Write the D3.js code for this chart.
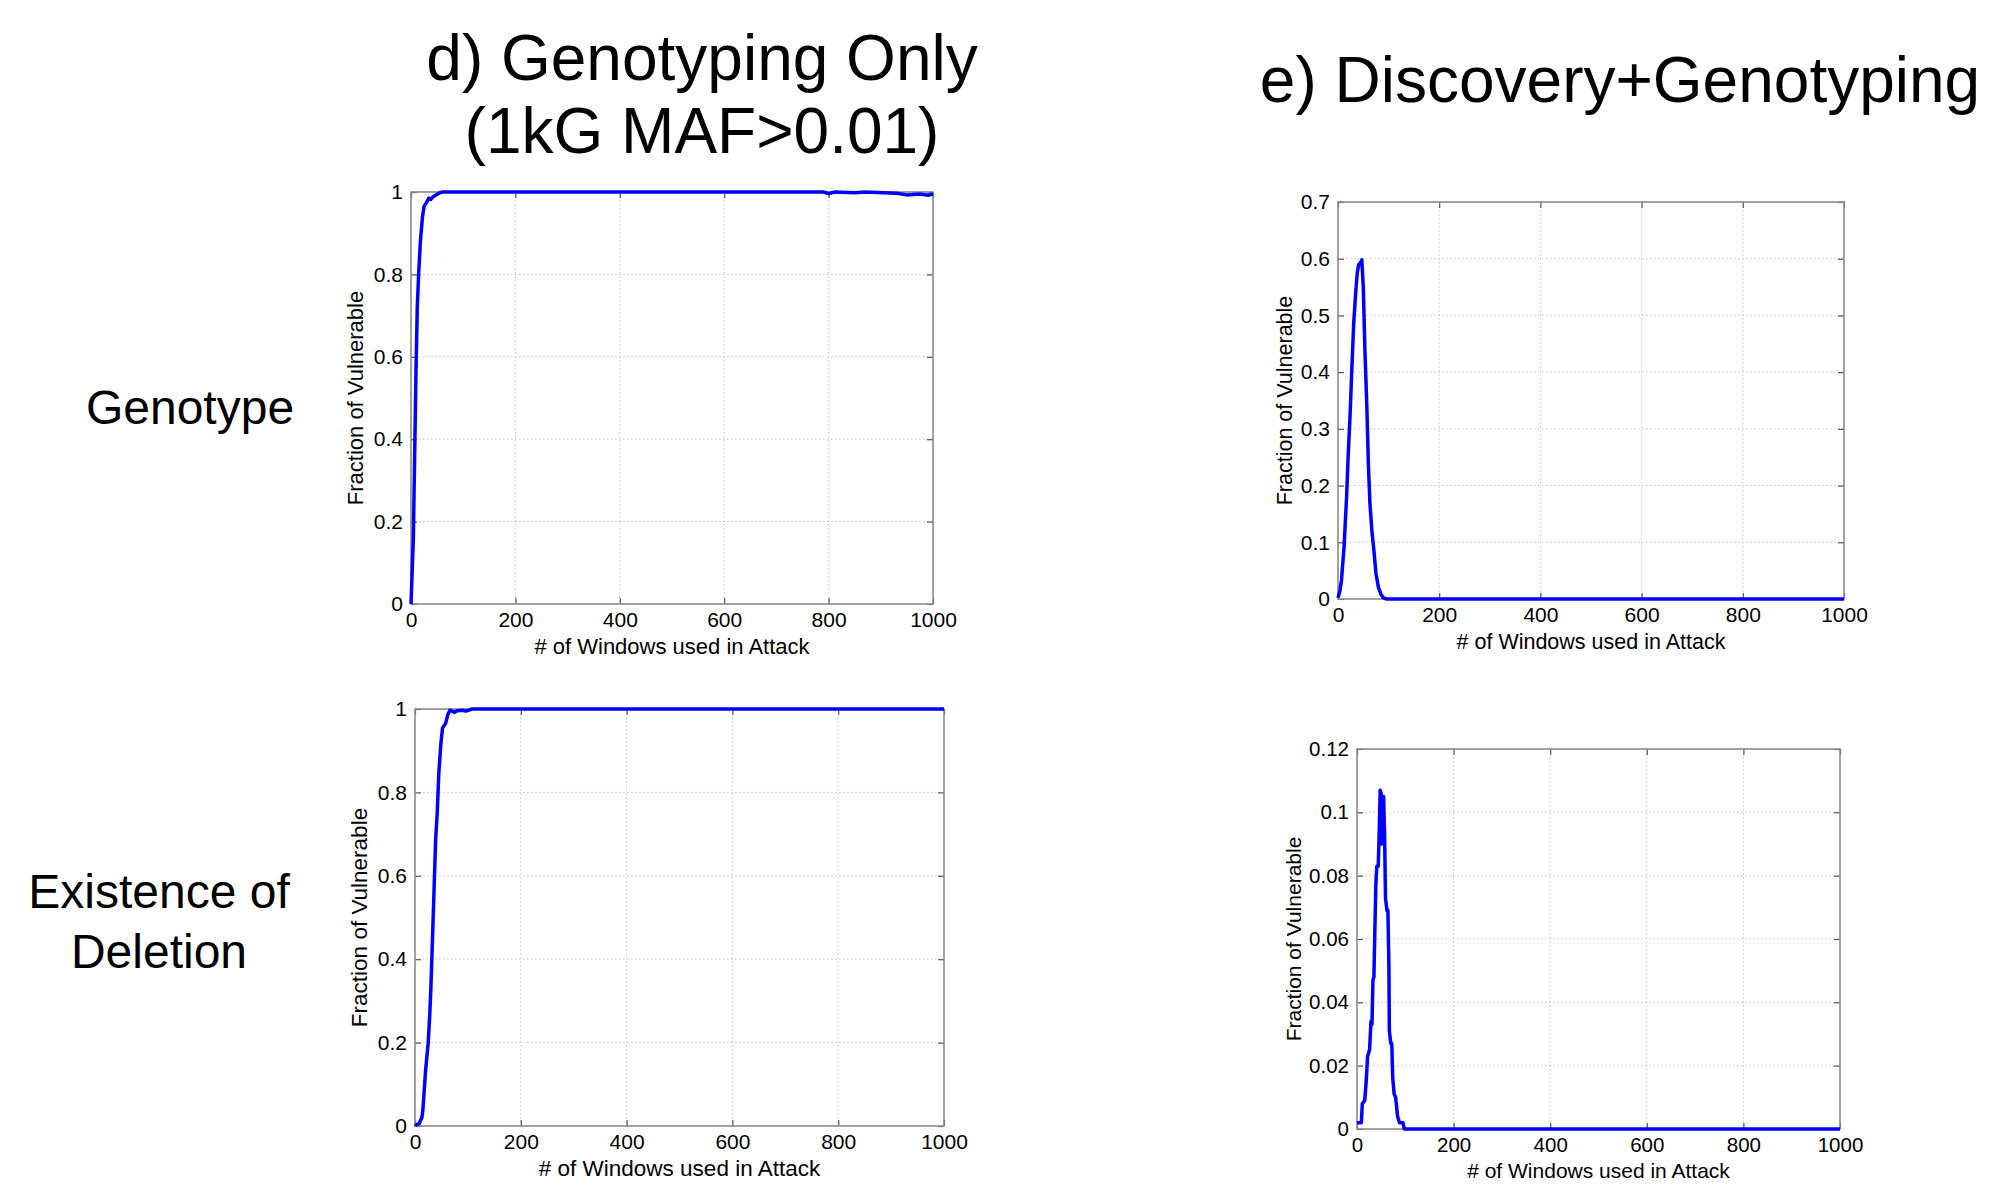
<!DOCTYPE html>
<html>
<head>
<meta charset="utf-8">
<script src="https://cdn.jsdelivr.net/npm/d3@7"></script>
<style>
  html, body { margin: 0; padding: 0; background: #fff; }
  svg { display: block; font-family: "Liberation Sans", Arial, sans-serif; }
  .grid line { stroke: #c4c4c4; stroke-width: 1; stroke-dasharray: 1.5 2.5; }
  .frame { fill: none; stroke: #8a8a8a; stroke-width: 1.6; }
  .tick line { stroke: #555; stroke-width: 1.2; }
  .tick text { fill: #000; }
  .curve { fill: none; stroke: #0000ff; stroke-width: 3.5; stroke-linejoin: round; }
</style>
</head>
<body>
<svg id="fig" width="1997" height="1196"></svg>
<script>
// column headings and row labels
const colTitles = [["d) Genotyping Only", "(1kG MAF>0.01)"], ["e) Discovery+Genotyping"]];
const rowLabels = [["Genotype"], ["Existence of", "Deletion"]];
const xLabel = "# of Windows used in Attack";
const yLabel = "Fraction of Vulnerable";

// tick values
const xTicks = [0, 200, 400, 600, 800, 1000];
const yTicksUnit = [0, 0.2, 0.4, 0.6, 0.8, 1];
const yTicksGenoDisc = [0, 0.1, 0.2, 0.3, 0.4, 0.5, 0.6, 0.7];
const yTicksDelDisc = [0, 0.02, 0.04, 0.06, 0.08, 0.1, 0.12];

// series: [windows, fraction]
const genoOnlyGenotype = [[0,0],[2,0.07],[4.5,0.16],[7.5,0.4],[9.5,0.56],[12,0.72],[15,0.81],[18,0.88],
  [22,0.94],[25,0.965],[30,0.975],[34,0.985],[38,0.982],[42,0.988],[48,0.993],[55,0.998],[60,1],
  [790,1],[800,0.996],[812,1],[850,0.998],[870,1],[930,0.997],[950,0.993],[975,0.995],[990,0.992],[1000,0.995]];
const genoOnlyDeletion = [[0,0],[4,0.004],[8,0.006],[11,0.015],[13,0.02],[15,0.04],[17,0.077],[20,0.133],
  [25,0.2],[28,0.27],[30,0.33],[33,0.446],[36,0.566],[39,0.686],[42,0.75],[45,0.846],[49,0.918],[52,0.954],
  [58,0.966],[62,0.986],[66,0.997],[70,0.995],[74,0.992],[80,0.996],[89,0.997],[96,0.995],[108,1],[1000,1]];
const discGenotype = [[0,0.002],[4,0.015],[7,0.034],[10,0.07],[12,0.092],[14,0.128],[17,0.18],[20,0.25],
  [24,0.327],[27,0.398],[31,0.486],[35,0.54],[38,0.575],[41,0.59],[44,0.592],[47,0.598],[50,0.55],[53,0.444],
  [57,0.339],[60,0.24],[63,0.17],[67,0.12],[71,0.085],[75,0.045],[80,0.02],[85,0.008],[90,0.002],[96,0],[1000,0]];
const discDeletion = [[0,0.002],[9,0.002],[11,0.008],[16,0.009],[19,0.015],[22,0.023],[26,0.025],[29,0.034],
  [31,0.033],[33,0.047],[35,0.048],[37,0.063],[39,0.077],[41,0.083],[44,0.083],[46,0.094],[48,0.107],[50,0.106],
  [51,0.09],[52,0.105],[54,0.09],[55,0.105],[57,0.094],[59,0.073],[62,0.069],[64,0.069],[66,0.052],[67,0.031],
  [70,0.027],[72,0.027],[74,0.016],[77,0.011],[80,0.01],[84,0.004],[88,0.002],[95,0.002],[98,0],[1000,0]];

// panel boxes in page pixels
const panels = [
  { data: genoOnlyGenotype, yTicks: yTicksUnit, box: [411, 192, 933, 604], font: 21, label: 22, ylOff: 56 },
  { data: discGenotype, yTicks: yTicksGenoDisc, box: [1338, 202, 1844, 599], font: 21, label: 21.5, ylOff: 54 },
  { data: genoOnlyDeletion, yTicks: yTicksUnit, box: [415, 709, 944, 1126], font: 21, label: 22.5, ylOff: 56 },
  { data: discDeletion, yTicks: yTicksDelDisc, box: [1357, 749, 1840, 1129], font: 20.5, label: 21, ylOff: 63 }
];

const svg = d3.select('#fig');
const fmt = d => String(+d.toFixed(2));

panels.forEach(p => {
  const [x0, y0, x1, y1] = p.box;
  const x = d3.scaleLinear().domain([0, 1000]).range([x0, x1]);
  const y = d3.scaleLinear().domain([0, d3.max(p.yTicks)]).range([y1, y0]);
  const g = svg.append('g');

  // dotted grid
  const grid = g.append('g').attr('class', 'grid');
  grid.selectAll('.gx').data(xTicks.slice(1, -1)).enter().append('line')
    .attr('x1', d => x(d)).attr('x2', d => x(d)).attr('y1', y0).attr('y2', y1);
  grid.selectAll('.gy').data(p.yTicks.slice(1, -1)).enter().append('line')
    .attr('y1', d => y(d)).attr('y2', d => y(d)).attr('x1', x0).attr('x2', x1);

  // axes: ticks point inward on all four sides
  const ax = (axis, tr, labels) => {
    const a = g.append('g').attr('transform', tr)
      .call(axis.tickSizeInner(-6).tickSizeOuter(0).tickPadding(8)
        .tickFormat(labels ? fmt : ''));
    a.select('.domain').remove();
    a.selectAll('text').style('font-size', p.font + 'px').style('font-family', null);
    a.attr('font-family', null);
  };
  ax(d3.axisBottom(x).tickValues(xTicks), `translate(0,${y1})`, true);
  ax(d3.axisTop(x).tickValues(xTicks), `translate(0,${y0})`, false);
  ax(d3.axisLeft(y).tickValues(p.yTicks), `translate(${x0},0)`, true);
  ax(d3.axisRight(y).tickValues(p.yTicks), `translate(${x1},0)`, false);

  g.append('rect').attr('class', 'frame')
    .attr('x', x0).attr('y', y0).attr('width', x1 - x0).attr('height', y1 - y0);

  g.append('path').datum(p.data).attr('class', 'curve')
    .attr('d', d3.line().x(d => x(d[0])).y(d => y(d[1])));

  g.append('text').attr('x', (x0 + x1) / 2).attr('y', y1 + 42)
    .attr('dy', '0.35em').attr('text-anchor', 'middle')
    .style('font-size', p.label + 'px').text(xLabel);
  g.append('text')
    .attr('transform', `translate(${x0 - p.ylOff},${(y0 + y1) / 2}) rotate(-90)`)
    .attr('dy', '0.35em').attr('text-anchor', 'middle')
    .style('font-size', p.label + 'px').text(yLabel);
});

// column headings
const titleSpots = [{ x: 702, y: [80, 153] }, { x: 1620, y: [102] }];
colTitles.forEach((lines, i) => {
  lines.forEach((t, j) => {
    svg.append('text').attr('x', titleSpots[i].x).attr('y', titleSpots[i].y[j])
      .attr('text-anchor', 'middle').style('font-size', '64px').text(t);
  });
});

// row labels
const rowSpots = [{ x: 190, y: [424] }, { x: 159, y: [908, 968] }];
rowLabels.forEach((lines, i) => {
  lines.forEach((t, j) => {
    svg.append('text').attr('x', rowSpots[i].x).attr('y', rowSpots[i].y[j])
      .attr('text-anchor', 'middle').style('font-size', '48px').text(t);
  });
});
</script>
</body>
</html>
